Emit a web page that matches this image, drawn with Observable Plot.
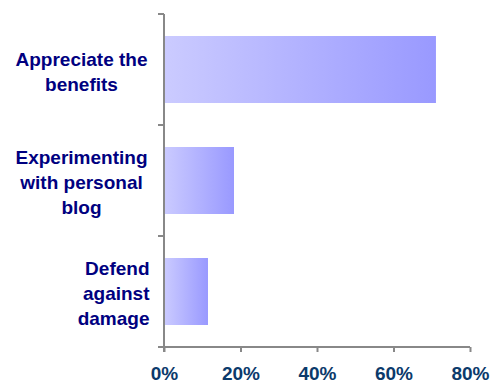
<!DOCTYPE html>
<html>
<head>
<meta charset="utf-8">
<script src="https://cdn.jsdelivr.net/npm/d3@7"></script>
<script src="https://cdn.jsdelivr.net/npm/@observablehq/plot@0.6"></script>
<style>
  html, body { margin: 0; padding: 0; background: #fff; }
  svg { font-family: "Liberation Sans", Arial, sans-serif; }
</style>
</head>
<body>
<div id="chart"></div>
<script>
const categories = ["Appreciate the benefits", "Experimenting with personal blog", "Defend against damage"];
const labelLines = ["Appreciate the\nbenefits", "Experimenting\nwith personal\nblog", "Defend\nagainst\ndamage"];
const labelAlign = ["middle", "middle", "end"];
const values = [0.711, 0.183, 0.115];
const xTicks = [0, 0.2, 0.4, 0.6, 0.8];

const data = categories.map((c, i) => ({category: c, label: labelLines[i], align: labelAlign[i], value: values[i]}));

const plot = Plot.plot({
  width: 492,
  height: 385,
  marginLeft: 164,
  marginRight: 22,
  marginTop: 14,
  marginBottom: 38,
  style: {fontFamily: '"Liberation Sans", Arial, sans-serif', background: "#fff"},
  x: {domain: [0, 0.8]},
  y: {domain: categories, paddingInner: 0.4, paddingOuter: 0.2},
  marks: [
    Plot.barX(data, {x: "value", y: "category", fill: "url(#barGrad)"}),
    Plot.text(data.filter(d => d.align === "middle"), {
      y: "category", text: "label", frameAnchor: "left", textAnchor: "middle",
      dx: -83, lineAnchor: "middle", lineHeight: 1.32, fontSize: 19, fontWeight: "bold", fill: "#000080"
    }),
    Plot.text(data.filter(d => d.align === "end"), {
      y: "category", text: "label", frameAnchor: "left", textAnchor: "end",
      dx: -15, lineAnchor: "middle", lineHeight: 1.32, fontSize: 19, fontWeight: "bold", fill: "#000080"
    }),
    Plot.axisX({ticks: xTicks, tickSize: 5, tickFormat: d3.format(".0%"), tickPadding: 14, label: null,
      stroke: "#888", strokeWidth: 2, fill: "#0b3a6b", fontSize: 19, fontWeight: "bold"}),
    Plot.axisY({ticks: [], label: null})
  ]
});

const svg = d3.select(plot);
const defs = svg.insert("defs", ":first-child");
const g = defs.append("linearGradient").attr("id", "barGrad").attr("x1", 0).attr("x2", 1).attr("y1", 0).attr("y2", 0);
g.append("stop").attr("offset", "0%").attr("stop-color", "#cbcbff");
g.append("stop").attr("offset", "100%").attr("stop-color", "#9999ff");

const xs = plot.scale("x");
const ys = plot.scale("y");
const x0 = xs.apply(0);
const [yTop, yBot] = ys.range;
const axes = svg.append("g").attr("stroke", "#888").attr("stroke-width", 2).attr("fill", "none");
axes.append("line").attr("x1", x0).attr("x2", x0).attr("y1", yTop).attr("y2", yBot + 5);
axes.append("line").attr("x1", x0 - 6).attr("x2", xs.apply(0.8)).attr("y1", yBot).attr("y2", yBot);
const step = (yBot - yTop) / categories.length;
for (let i = 0; i < categories.length; i++) {
  const yy = yTop + i * step;
  axes.append("line").attr("x1", x0 - 6).attr("x2", x0).attr("y1", yy).attr("y2", yy);
}

document.getElementById("chart").appendChild(plot);
</script>
</body>
</html>
